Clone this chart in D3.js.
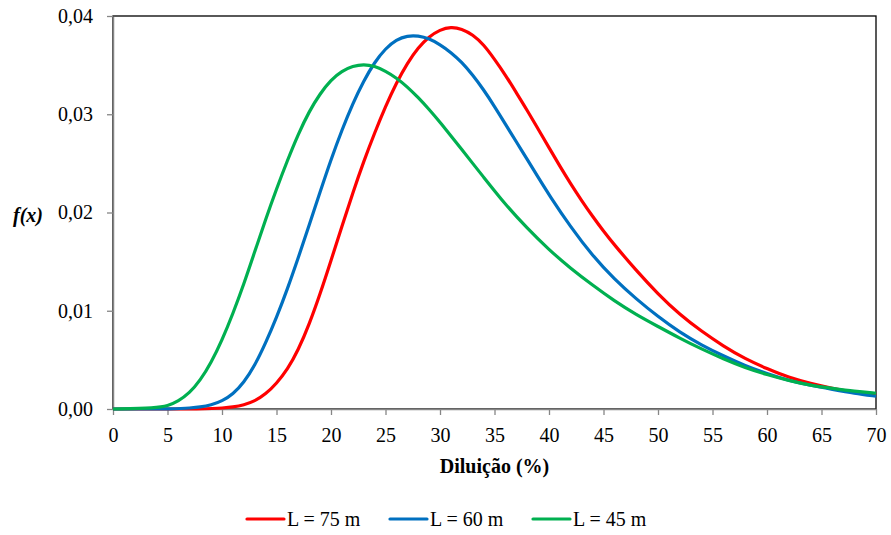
<!DOCTYPE html>
<html>
<head>
<meta charset="utf-8">
<script src="https://cdn.jsdelivr.net/npm/d3@7"></script>
<style>
  html, body { margin: 0; padding: 0; background: #fff; }
  svg { display: block; }
  svg text { font-family: "Liberation Serif", "Tinos", "Times New Roman", Times, "DejaVu Serif", serif; }
</style>
</head>
<body>
<svg id="chart" width="891" height="535"></svg>
<script>
// ---- data ----
const seriesNames = ["L = 75 m", "L = 60 m", "L = 45 m"];
const seriesColors = ["#FF0000", "#0070C0", "#00B050"];

const xRed   = [0, 9, 10, 11, 12, 13, 14, 15, 16, 17, 18, 19, 20, 21, 22, 23, 24, 25, 26, 27, 28, 29, 30, 31, 32, 33, 34, 35, 36, 37, 38, 39, 40, 41, 42, 43, 44, 45, 46, 48, 50, 52, 54, 56, 58, 60, 62, 64, 66, 68, 70];
const yRed   = [0, 0, 0.0001, 0.0002, 0.0004, 0.0008, 0.0015, 0.0026, 0.0040, 0.0060, 0.0086, 0.0117, 0.0151, 0.0186, 0.0220, 0.0252, 0.0281, 0.0308, 0.0332, 0.0352, 0.0368, 0.0379, 0.0386, 0.0389, 0.0387, 0.0381, 0.0371, 0.0356, 0.0340, 0.0322, 0.0304, 0.0285, 0.0266, 0.0247, 0.0229, 0.0212, 0.0196, 0.0181, 0.0167, 0.0141, 0.0117, 0.0096, 0.0079, 0.0064, 0.0051, 0.0041, 0.0032, 0.0026, 0.0021, 0.0017, 0.0014];

const xBlue  = [0, 6, 7, 8, 9, 10, 11, 12, 13, 14, 15, 16, 17, 18, 19, 20, 21, 22, 23, 24, 25, 26, 27, 28, 29, 30, 31, 32, 33, 34, 35, 36, 37, 38, 39, 40, 42, 44, 46, 48, 50, 52, 54, 56, 58, 60, 62, 64, 66, 68, 70];
const yBlue  = [0, 0, 0.0001, 0.0002, 0.0004, 0.0008, 0.0015, 0.0027, 0.0044, 0.0067, 0.0093, 0.0122, 0.0154, 0.0187, 0.0221, 0.0254, 0.0284, 0.0311, 0.0334, 0.0353, 0.0367, 0.0376, 0.0380, 0.0380, 0.0377, 0.0371, 0.0363, 0.0353, 0.0340, 0.0325, 0.0308, 0.0290, 0.0272, 0.0254, 0.0236, 0.0218, 0.0185, 0.0156, 0.0132, 0.0112, 0.0094, 0.0078, 0.0065, 0.0054, 0.0044, 0.0036, 0.0029, 0.0024, 0.0020, 0.0016, 0.0013];

const xGreen = [0, 4, 5, 6, 7, 8, 9, 10, 11, 12, 13, 14, 15, 16, 17, 18, 19, 20, 21, 22, 23, 24, 25, 26, 27, 28, 29, 30, 32, 34, 36, 38, 40, 42, 44, 46, 48, 50, 52, 54, 56, 58, 60, 62, 64, 66, 68, 70];
const yGreen = [0, 0.0001, 0.0003, 0.0008, 0.0016, 0.0029, 0.0047, 0.0070, 0.0097, 0.0127, 0.0160, 0.0193, 0.0224, 0.0253, 0.0280, 0.0303, 0.0321, 0.0335, 0.0344, 0.0349, 0.0351, 0.0349, 0.0344, 0.0337, 0.0328, 0.0317, 0.0305, 0.0292, 0.0264, 0.0236, 0.0208, 0.0184, 0.0162, 0.0143, 0.0126, 0.0110, 0.0096, 0.0084, 0.0072, 0.0061, 0.0051, 0.0042, 0.0035, 0.0029, 0.0024, 0.0021, 0.0018, 0.0016];

const xTicks = [0, 5, 10, 15, 20, 25, 30, 35, 40, 45, 50, 55, 60, 65, 70];
const yTicks = [0, 0.01, 0.02, 0.03, 0.04];
const yTickLabels = ["0,00", "0,01", "0,02", "0,03", "0,04"];
const xTitle = "Diluição (%)";
const yTitle = "f(x)";

// ---- layout ----
const svg = d3.select("#chart");
const plotL = 113, plotR = 876, plotT = 16, plotB = 409;
const FONT = '"Liberation Serif", "Tinos", "Times New Roman", Times, "DejaVu Serif", serif';

const x = d3.scaleLinear().domain([0, 70]).range([plotL, plotR]);
const y = d3.scaleLinear().domain([0, 0.04]).range([plotB, plotT]);

// plot border (top/right black)
svg.append("rect")
  .attr("x", plotL).attr("y", plotT)
  .attr("width", plotR - plotL).attr("height", plotB - plotT)
  .attr("fill", "none").attr("stroke", "#000").attr("stroke-width", 1.3);

const series = [
  { xs: xRed, ys: yRed },
  { xs: xBlue, ys: yBlue },
  { xs: xGreen, ys: yGreen }
];
const line = d3.line().x(d => x(d[0])).y(d => y(d[1])).curve(d3.curveBasis);

// axes (gray)
const xAxis = d3.axisBottom(x).tickValues(xTicks).tickSize(6).tickSizeOuter(0).tickFormat(d3.format("d"));
const yAxis = d3.axisLeft(y).tickValues(yTicks).tickSize(6).tickSizeOuter(0).tickFormat((d, i) => yTickLabels[i]);

const gx = svg.append("g").attr("transform", `translate(0,${plotB})`).call(xAxis);
const gy = svg.append("g").attr("transform", `translate(${plotL},0)`).call(yAxis);
[gx, gy].forEach(g => {
  g.attr("font-family", FONT).attr("font-size", 20);
  g.selectAll("path.domain").attr("stroke", "#868686").attr("stroke-width", 1.5);
  g.selectAll(".tick line").attr("stroke", "#868686").attr("stroke-width", 1.3);
  g.selectAll("text").attr("fill", "#000").style("font-family", FONT).style("font-size", "20px");
});
gx.selectAll("text").attr("y", 19).attr("dy", "0.71em");
gy.selectAll("text").attr("x", -20).attr("dy", "0.32em");

series.forEach((s, i) => {
  const pts = s.xs.map((v, j) => [v, s.ys[j]]);
  svg.append("path").datum(pts)
    .attr("fill", "none")
    .attr("stroke", seriesColors[i])
    .attr("stroke-width", 3.2)
    .attr("stroke-linejoin", "round")
    .attr("d", line);
});

// titles
svg.append("text")
  .attr("x", (plotL + plotR) / 2).attr("y", 466)
  .attr("text-anchor", "middle").attr("dominant-baseline", "central")
  .style("font-weight", "bold").style("font-size", "20px")
  .text(xTitle);

svg.append("text")
  .attr("x", 28).attr("y", 215)
  .attr("text-anchor", "middle").attr("dominant-baseline", "central")
  .style("font-weight", "bold").style("font-style", "italic").style("font-size", "20px")
  .text(yTitle);

// legend
const legendX = [247, 390, 533];
const legendY = 519;
seriesNames.forEach((name, i) => {
  const g = svg.append("g").attr("transform", `translate(${legendX[i]},${legendY})`);
  g.append("line").attr("x1", 0).attr("x2", 37).attr("y1", 0).attr("y2", 0)
    .attr("stroke", seriesColors[i]).attr("stroke-width", 3.2).attr("stroke-linecap", "round");
  g.append("text").attr("x", 40).attr("y", 0).attr("dy", "0.35em")
    .style("font-size", "20px").text(name);
});
</script>
</body>
</html>
